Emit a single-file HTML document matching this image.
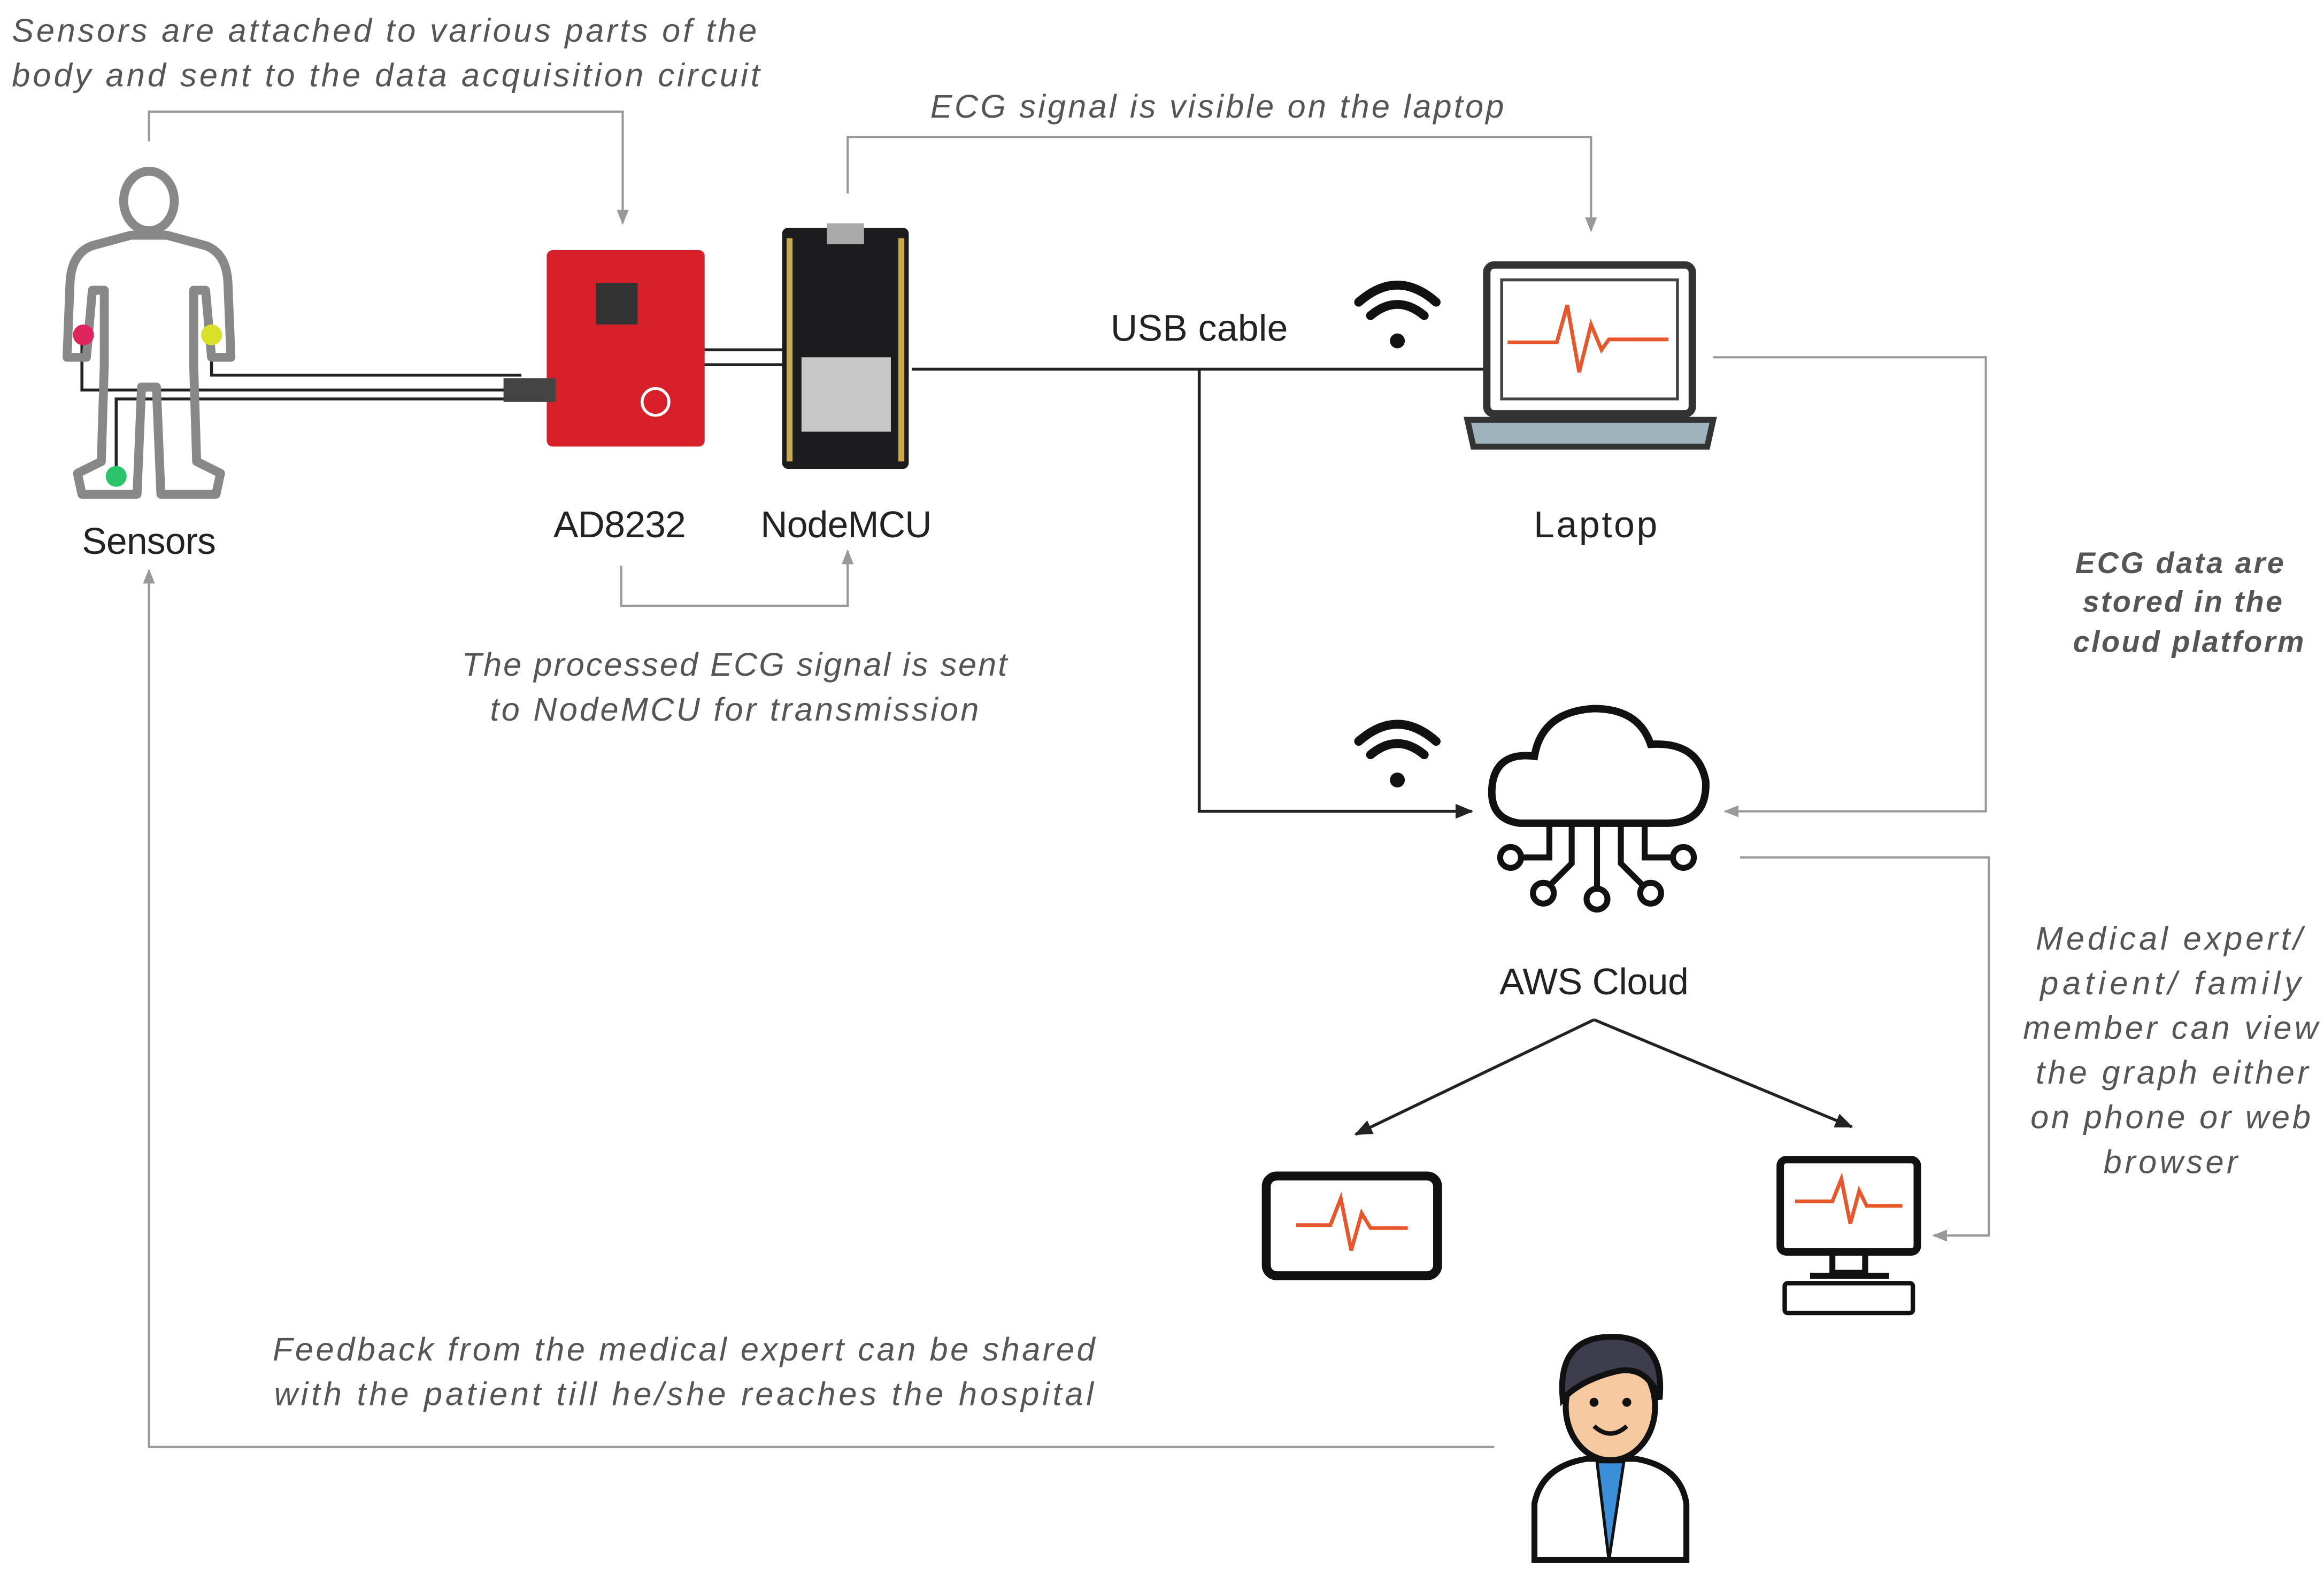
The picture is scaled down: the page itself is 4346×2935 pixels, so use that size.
<!DOCTYPE html>
<html><head><meta charset="utf-8"><style>html,body{margin:0;padding:0;background:#fff}svg{display:block}</style></head><body>
<svg width="4346" height="2935" viewBox="0 0 1560 1054" preserveAspectRatio="none" xmlns="http://www.w3.org/2000/svg">
<defs>
<marker id="ag" markerWidth="10" markerHeight="10" refX="9" refY="5" orient="auto" markerUnits="userSpaceOnUse"><path d="M0,1 L10,5 L0,9 Z" fill="#999"/></marker>
<marker id="ab" markerWidth="12" markerHeight="12" refX="11" refY="6" orient="auto" markerUnits="userSpaceOnUse"><path d="M0,1 L12,6 L0,11 Z" fill="#222"/></marker>
</defs>
<rect width="1560" height="1054" fill="#fff"/>
<g font-family="Liberation Sans, sans-serif" font-style="italic" fill="#555" font-size="22" text-anchor="middle" lengthAdjust="spacing">
<text x="258" y="28" textLength="500">Sensors are attached to various parts of the</text>
<text x="259" y="58" textLength="502">body and sent to the data acquisition circuit</text>
<text x="817" y="79" textLength="385">ECG signal is visible on the laptop</text>
<text x="493" y="454" textLength="366">The processed ECG signal is sent</text>
<text x="493" y="484" textLength="328">to NodeMCU for transmission</text>
<text x="459" y="914" textLength="552">Feedback from the medical expert can be shared</text>
<text x="459" y="944" textLength="550">with the patient till he/she reaches the hospital</text>
<text x="1456" y="638" textLength="179">Medical expert/</text>
<text x="1457" y="668" textLength="175">patient/ family</text>
<text x="1457" y="698" textLength="198">member can view</text>
<text x="1458" y="728" textLength="183">the graph either</text>
<text x="1457" y="758" textLength="188">on phone or web</text>
<text x="1457" y="788" textLength="90">browser</text>
<g font-weight="bold" font-size="20"><text x="1463" y="385" textLength="140">ECG data are</text><text x="1465" y="411" textLength="134">stored in the</text><text x="1469" y="438" textLength="155">cloud platform</text></g>
</g>
<g font-family="Liberation Sans, sans-serif" fill="#222" font-size="25" text-anchor="middle" lengthAdjust="spacingAndGlyphs">
<text x="100" y="372" textLength="90">Sensors</text><text x="416" y="361" textLength="89">AD8232</text><text x="568" y="361" textLength="115">NodeMCU</text>
<text x="805" y="229" textLength="119">USB cable</text><text x="1071" y="361" textLength="83">Laptop</text><text x="1070" y="668" textLength="127">AWS Cloud</text>
</g>
<g fill="none" stroke="#999" stroke-width="1.5">
<path d="M100,95 V75 H418 V150" marker-end="url(#ag)"/>
<path d="M417,380 V407 H569 V370" marker-end="url(#ag)"/>
<path d="M569,130 V92 H1068 V155" marker-end="url(#ag)"/>
<path d="M1150,240 H1333 V545 H1158" marker-end="url(#ag)"/>
<path d="M1168,576 H1335 V830 H1298" marker-end="url(#ag)"/>
<path d="M1003,972 H100 V383" marker-end="url(#ag)"/>
</g>
<g fill="none" stroke="#222" stroke-width="2">
<path d="M612,248 H1000"/>
<path d="M805,248 V545 H988" marker-end="url(#ab)"/>
<path d="M1070,685 L910,762" marker-end="url(#ab)"/>
<path d="M1070,685 L1243,757" marker-end="url(#ab)"/>
<path d="M55,225 V262 H350 M142,225 V252 H350 M78,318 V268 H350 M470,235 H527 M470,245 H527"/>
</g>
<g fill="none" stroke="#888" stroke-width="6" stroke-linejoin="round">
<ellipse cx="100" cy="135" rx="17" ry="20"/>
<path d="M88,158 L62,165 Q48,170 47,190 L45,240 L58,240 L62,195 L70,195 L70,245 L68,310 L52,318 L55,332 L92,332 L95,260 L105,260 L108,332 L145,332 L148,318 L132,310 L130,245 L130,195 L138,195 L142,240 L155,240 L153,190 Q152,170 138,165 L112,158 Z"/>
</g>
<circle cx="56" cy="225" r="7" fill="#e0245e"/><circle cx="142" cy="225" r="7" fill="#d8e02a"/><circle cx="78" cy="320" r="7" fill="#2cc46b"/>
<rect x="367" y="168" width="106" height="132" rx="4" fill="#d8202a"/>
<rect x="400" y="190" width="28" height="28" fill="#333"/>
<rect x="338" y="254" width="35" height="16" fill="#444"/>
<circle cx="440" cy="270" r="9" fill="none" stroke="#fff" stroke-width="2"/>
<rect x="525" y="153" width="85" height="162" rx="4" fill="#1c1c1e"/>
<rect x="555" y="150" width="25" height="14" fill="#aaa"/>
<rect x="538" y="240" width="60" height="50" fill="#c8c8c8"/>
<g fill="#c9a94a"><rect x="528" y="160" width="4" height="150"/><rect x="603" y="160" width="4" height="150"/></g>
<g fill="none" stroke="#111" stroke-width="6" stroke-linecap="round">
<path d="M912,203 Q938,180 964,203 M920,212 Q938,197 956,212"/>
<path d="M912,498 Q938,475 964,498 M920,507 Q938,492 956,507"/>
</g>
<circle cx="938" cy="229" r="5" fill="#111"/><circle cx="938" cy="524" r="5" fill="#111"/>
<rect x="998" y="178" width="138" height="100" rx="5" fill="#fff" stroke="#333" stroke-width="5"/>
<rect x="1008" y="188" width="118" height="80" fill="#fff" stroke="#444" stroke-width="2"/>
<path d="M985,282 H1150 L1146,300 H989 Z" fill="#9fb3bd" stroke="#333" stroke-width="4"/>
<path d="M1012,230 H1045 L1052,205 L1060,250 L1068,218 L1075,235 L1080,228 H1120" fill="none" stroke="#e8572c" stroke-width="2.5"/>
<path d="M1020,553 Q998,550 1002,525 Q1006,505 1030,508 Q1035,478 1070,476 Q1100,476 1108,500 Q1140,498 1145,525 Q1146,552 1120,553 Z" fill="none" stroke="#111" stroke-width="5"/>
<g fill="none" stroke="#111" stroke-width="4">
<path d="M1072,553 V598 M1055,553 V580 L1040,595 M1088,553 V580 L1103,595 M1040,553 V576 H1022 M1104,553 V576 H1122"/>
<circle cx="1072" cy="604" r="7"/><circle cx="1036" cy="600" r="7"/><circle cx="1108" cy="600" r="7"/><circle cx="1014" cy="576" r="7"/><circle cx="1130" cy="576" r="7"/>
</g>
<rect x="850" y="790" width="115" height="67" rx="7" fill="#fff" stroke="#111" stroke-width="6"/>
<path d="M870,823 H893 L900,805 L907,840 L914,815 L920,825 H945" fill="none" stroke="#e8572c" stroke-width="2.5"/>
<rect x="1195" y="779" width="92" height="62" rx="4" fill="#fff" stroke="#111" stroke-width="5"/>
<path d="M1230,841 V855 H1252 V841 M1215,857 H1268" stroke="#111" stroke-width="4" fill="none"/>
<rect x="1198" y="862" width="86" height="20" rx="2" fill="#fff" stroke="#111" stroke-width="3"/>
<path d="M1205,807 H1230 L1236,792 L1242,822 L1248,800 L1253,810 H1277" fill="none" stroke="#e8572c" stroke-width="2.5"/>
<path d="M1030,1048 V1010 Q1035,985 1065,980 H1098 Q1128,985 1132,1010 V1048 Z" fill="#fff" stroke="#111" stroke-width="4"/>
<path d="M1072,982 L1080,1048 L1090,982 Z" fill="#3a8fd8" stroke="#111" stroke-width="2"/>
<ellipse cx="1081" cy="945" rx="30" ry="36" fill="#f6c9a0" stroke="#111" stroke-width="4"/>
<path d="M1049,940 Q1045,898 1082,898 Q1118,898 1114,940 Q1105,915 1082,922 Q1060,928 1049,940 Z" fill="#3d3d4d" stroke="#111" stroke-width="4"/>
<path d="M1070,958 Q1081,968 1092,958" fill="none" stroke="#111" stroke-width="3"/>
<circle cx="1070" cy="942" r="3" fill="#111"/><circle cx="1092" cy="942" r="3" fill="#111"/>
</svg>
</body></html>
